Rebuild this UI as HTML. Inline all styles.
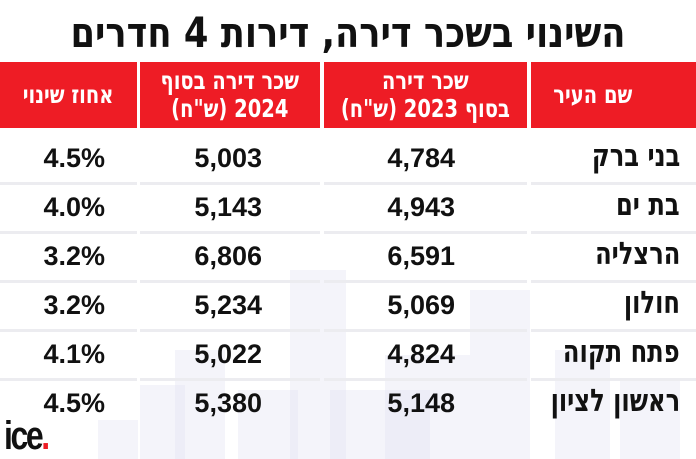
<!DOCTYPE html>
<html><head><meta charset="utf-8"><style>
body{margin:0;width:696px;height:459px;background:#fff;position:relative;overflow:hidden;font-family:"Liberation Sans","DejaVu Sans",sans-serif;font-weight:bold;}
.t{position:absolute;left:0;width:696px;top:8px;text-align:center;font-size:42px;direction:rtl;color:#111;font-family:"DejaVu Sans","Liberation Sans",sans-serif;transform:scaleX(0.84);}
.h{position:absolute;top:62px;height:66px;background:#ee1c25;color:#fff;font-size:25px;line-height:28px;display:flex;align-items:center;justify-content:center;text-align:center;direction:rtl;font-family:"DejaVu Sans","Liberation Sans",sans-serif;}
.h span{display:inline-block;transform:scaleX(0.78);white-space:nowrap;}
.c{position:absolute;font-size:27px;color:#111;line-height:30px;}
.n{text-align:right;}
.heb{font-family:"DejaVu Sans",sans-serif;font-size:31px;transform:scaleX(0.78);transform-origin:right center;direction:rtl;white-space:nowrap;}
.l{position:absolute;height:3px;background:#ececf0;}
.b{position:absolute;background:#e4e4f3;opacity:.4;}
</style></head><body>
<div class="b" style="left:290px;top:270px;width:56px;height:189px"></div>
<div class="b" style="left:140px;top:385px;width:45px;height:74px"></div>
<div class="b" style="left:98px;top:420px;width:40px;height:39px"></div>
<div class="b" style="left:175px;top:350px;width:50px;height:109px"></div>
<div class="b" style="left:238px;top:390px;width:60px;height:69px"></div>
<div class="b" style="left:330px;top:390px;width:100px;height:69px"></div>
<div class="b" style="left:385px;top:355px;width:85px;height:104px"></div>
<div class="b" style="left:470px;top:290px;width:60px;height:169px"></div>
<div class="b" style="left:555px;top:350px;width:55px;height:109px"></div>
<div class="b" style="left:620px;top:380px;width:60px;height:79px"></div>
<div class="t">השינוי בשכר דירה, דירות 4 חדרים</div>
<div class="h" style="left:0;width:137px"><span>אחוז שינוי</span></div>
<div class="h" style="left:140px;width:180px"><span>שכר דירה בסוף<br>2024 (ש"ח)</span></div>
<div class="h" style="left:324px;width:203px"><span>שכר דירה<br>בסוף 2023 (ש"ח)</span></div>
<div class="h" style="left:531px;width:165px;justify-content:flex-end"><span style="transform-origin:right center;margin-right:14px">שם העיר</span></div>
<div class="l" style="left:0;width:137px;top:182px"></div><div class="l" style="left:140px;width:180px;top:182px"></div><div class="l" style="left:324px;width:203px;top:182px"></div><div class="l" style="left:531px;width:165px;top:182px"></div>
<div class="l" style="left:0;width:137px;top:231px"></div><div class="l" style="left:140px;width:180px;top:231px"></div><div class="l" style="left:324px;width:203px;top:231px"></div><div class="l" style="left:531px;width:165px;top:231px"></div>
<div class="l" style="left:0;width:137px;top:280px"></div><div class="l" style="left:140px;width:180px;top:280px"></div><div class="l" style="left:324px;width:203px;top:280px"></div><div class="l" style="left:531px;width:165px;top:280px"></div>
<div class="l" style="left:0;width:137px;top:329px"></div><div class="l" style="left:140px;width:180px;top:329px"></div><div class="l" style="left:324px;width:203px;top:329px"></div><div class="l" style="left:531px;width:165px;top:329px"></div>
<div class="l" style="left:0;width:137px;top:378px"></div><div class="l" style="left:140px;width:180px;top:378px"></div><div class="l" style="left:324px;width:203px;top:378px"></div><div class="l" style="left:531px;width:165px;top:378px"></div>

<div class="c n" style="right:591px;top:143px">4.5%</div><div class="c n" style="right:434px;top:143px">5,003</div><div class="c n" style="right:241px;top:143px">4,784</div><div class="c n heb" style="right:16px;top:141px">בני ברק</div>
<div class="c n" style="right:591px;top:192px">4.0%</div><div class="c n" style="right:434px;top:192px">5,143</div><div class="c n" style="right:241px;top:192px">4,943</div><div class="c n heb" style="right:16px;top:190px">בת ים</div>
<div class="c n" style="right:591px;top:241px">3.2%</div><div class="c n" style="right:434px;top:241px">6,806</div><div class="c n" style="right:241px;top:241px">6,591</div><div class="c n heb" style="right:16px;top:239px">הרצליה</div>
<div class="c n" style="right:591px;top:290px">3.2%</div><div class="c n" style="right:434px;top:290px">5,234</div><div class="c n" style="right:241px;top:290px">5,069</div><div class="c n heb" style="right:16px;top:288px">חולון</div>
<div class="c n" style="right:591px;top:339px">4.1%</div><div class="c n" style="right:434px;top:339px">5,022</div><div class="c n" style="right:241px;top:339px">4,824</div><div class="c n heb" style="right:16px;top:337px">פתח תקוה</div>
<div class="c n" style="right:591px;top:388px">4.5%</div><div class="c n" style="right:434px;top:388px">5,380</div><div class="c n" style="right:241px;top:388px">5,148</div><div class="c n heb" style="right:16px;top:386px">ראשון לציון</div>
<div style="position:absolute;left:4px;top:414px;font-size:40px;letter-spacing:-3px;color:#111;transform:scaleX(0.8);transform-origin:left top">ice<span style="color:#ee1c25">.</span></div>
</body></html>
